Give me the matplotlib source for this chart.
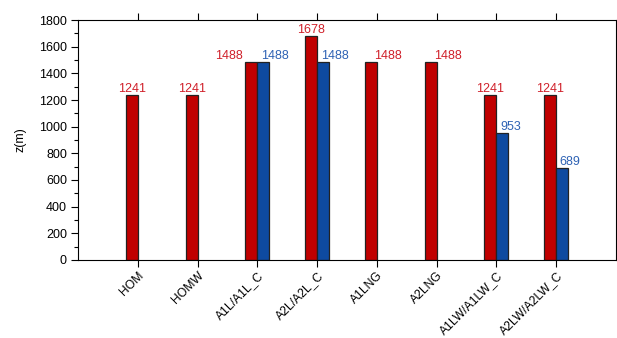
import numpy as np
import matplotlib.pyplot as plt

plt.rcParams['font.family'] = ['Liberation Sans', 'DejaVu Sans']

cases = ['HOM', 'HOMW', 'A1L/A1L_C', 'A2L/A2L_C', 'A1LNG', 'A2LNG', 'A1LW/A1LW_C', 'A2LW/A2LW_C']
red_vals = [1241, 1241, 1488, 1678, 1488, 1488, 1241, 1241]
blue_vals = [np.nan, np.nan, 1488, 1488, np.nan, np.nan, 953, 689]

red_c = '#c00000'
blue_c = '#0e4aa0'
red_txt = '#d0202a'
blue_txt = '#2e62b4'
fs = 9

fig = plt.figure(figsize=(6.17, 3.38), dpi=100)
ax = fig.add_axes([0.1264, 0.2308, 0.872, 0.710])

x = np.arange(1, len(cases) + 1)
w = 0.2
ax.bar(x - w / 2, red_vals, width=w, color=red_c, edgecolor='#222222', linewidth=0.9)
ax.bar(x + w / 2, blue_vals, width=w, color=blue_c, edgecolor='#222222', linewidth=0.9)

# value labels (placement imitates the original)
red_ha = ['center', 'center', 'right', 'center', 'left', 'left', 'center', 'center']
for xi, v, ha in zip(x, red_vals, red_ha):
    if ha == 'center':
        xt = xi - w / 2
    elif ha == 'right':
        xt = xi - w - 0.05
    else:
        xt = xi - w / 2 + 0.06
    ax.text(xt, v, str(v), color=red_txt, fontsize=fs, ha=ha, va='bottom')
for xi, v in zip(x, blue_vals):
    if np.isnan(v):
        continue
    ax.text(xi + 0.06, v, str(int(v)), color=blue_txt, fontsize=fs, ha='left', va='bottom')

ax.set_xlim(0, 9)
ax.set_ylim(0, 1800)
ax.set_xticks(x)
ax.set_xticklabels(cases, rotation=45, ha='right', rotation_mode='anchor', fontsize=8.7)
ax.set_yticks(np.arange(0, 1801, 200))
ax.set_yticks(np.arange(0, 1801, 100), minor=True)
ax.tick_params(axis='y', labelsize=fs, length=5, width=0.8, pad=3)
ax.tick_params(axis='y', which='minor', length=3, width=0.8)
ax.tick_params(axis='x', top=True, length=5, width=0.8, pad=2)
ax.set_ylabel('z(m)', fontsize=fs, labelpad=9)
for s in ax.spines.values():
    s.set_linewidth(0.8)

fig.savefig('out.png', dpi=100)
